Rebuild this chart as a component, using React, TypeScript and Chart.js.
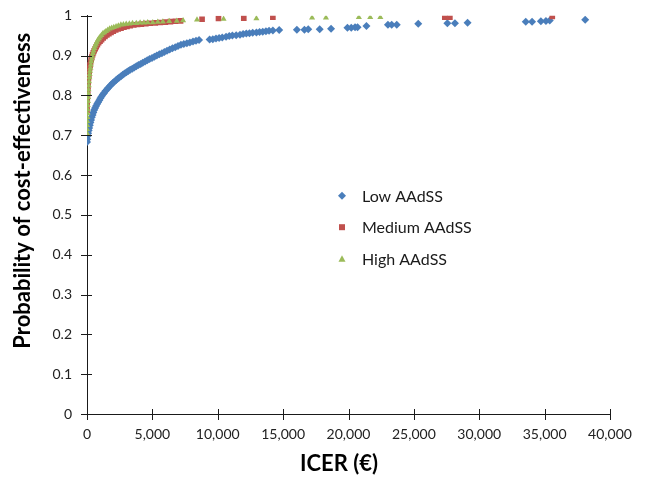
import React, { useEffect, useRef } from "react";
import { Chart, registerables } from "chart.js";

Chart.register(...registerables);

// ICER (€), probability of cost-effectiveness
const lowAAdSS: [number, number][] = [
  [0, 0.683], [20, 0.690], [50, 0.698], [85, 0.705], [125, 0.712], [165, 0.718],
  [215, 0.725], [260, 0.732], [310, 0.738], [365, 0.745], [425, 0.751], [485, 0.757],
  [550, 0.763], [620, 0.768], [695, 0.773], [775, 0.778], [850, 0.783], [940, 0.788],
  [1025, 0.793], [1110, 0.797], [1210, 0.802], [1305, 0.806], [1410, 0.811], [1520, 0.815],
  [1625, 0.819], [1740, 0.823], [1855, 0.827], [1970, 0.831], [2090, 0.834], [2215, 0.838],
  [2340, 0.842], [2465, 0.845], [2600, 0.848], [2735, 0.852], [2870, 0.855], [3015, 0.858],
  [3160, 0.861], [3305, 0.864], [3460, 0.867], [3615, 0.870], [3770, 0.873], [3935, 0.876],
  [4100, 0.879], [4265, 0.882], [4440, 0.885], [4610, 0.888], [4785, 0.891], [4970, 0.894],
  [5155, 0.897], [5340, 0.900], [5530, 0.903], [5725, 0.906], [5920, 0.909], [6120, 0.912],
  [6325, 0.915], [6535, 0.918], [6750, 0.921], [6960, 0.924], [7185, 0.927], [7405, 0.929],
  [7640, 0.931], [7870, 0.933], [8105, 0.935], [8335, 0.937], [8570, 0.939],
  [9380, 0.940], [9620, 0.941], [9865, 0.943], [10105, 0.944], [10345, 0.945], [10635, 0.947],
  [10880, 0.949], [11120, 0.950], [11410, 0.951], [11700, 0.952], [11940, 0.954], [12185, 0.955],
  [12425, 0.956], [12670, 0.957], [12960, 0.958], [13200, 0.959], [13440, 0.960], [13685, 0.961],
  [13925, 0.962], [14215, 0.963], [14700, 0.964], [16050, 0.965], [16630, 0.965], [16920, 0.966],
  [17795, 0.966], [18665, 0.967], [19920, 0.970], [20210, 0.970], [20500, 0.971], [20695, 0.971],
  [21370, 0.974], [23015, 0.977], [23305, 0.977], [23690, 0.977], [25335, 0.980], [27560, 0.981],
  [28140, 0.981], [29105, 0.982], [33555, 0.985], [34040, 0.985], [34715, 0.986], [35100, 0.987],
  [35390, 0.988], [38100, 0.990],
];

const mediumAAdSS: [number, number][] = [
  [0, 0.762], [0, 0.772], [10, 0.782], [20, 0.792], [35, 0.802], [50, 0.812], [68, 0.822],
  [87, 0.832], [111, 0.842], [135, 0.851], [164, 0.860], [193, 0.868], [232, 0.876], [271, 0.883],
  [319, 0.890], [367, 0.896], [425, 0.902], [484, 0.907], [551, 0.912], [629, 0.917], [706, 0.922],
  [793, 0.927], [890, 0.932], [996, 0.936], [1112, 0.940], [1238, 0.944], [1373, 0.948],
  [1518, 0.952], [1673, 0.955], [1837, 0.958], [2011, 0.961], [2195, 0.964], [2388, 0.967],
  [2601, 0.969], [2824, 0.971], [3056, 0.973], [3307, 0.975], [3578, 0.977], [3868, 0.978],
  [4158, 0.979], [4497, 0.980], [4835, 0.981], [5222, 0.982], [5609, 0.983], [5995, 0.984],
  [6382, 0.985], [6769, 0.986], [7156, 0.987], [8800, 0.991], [10057, 0.993], [11991, 0.994],
  [14215, 0.996], [27366, 0.996], [27753, 0.996], [35586, 0.998],
];

const highAAdSS: [number, number][] = [
  [0, 0.705], [0, 0.715], [10, 0.725], [20, 0.735], [29, 0.745], [39, 0.755], [48, 0.765],
  [58, 0.775], [73, 0.785], [87, 0.795], [102, 0.805], [116, 0.815], [135, 0.825], [155, 0.835],
  [179, 0.845], [203, 0.853], [232, 0.861], [261, 0.869], [295, 0.877], [329, 0.885], [367, 0.892],
  [406, 0.899], [454, 0.906], [503, 0.912], [561, 0.918], [619, 0.924], [687, 0.929], [754, 0.934],
  [832, 0.939], [919, 0.943], [1006, 0.947], [1102, 0.951], [1209, 0.955], [1325, 0.958],
  [1451, 0.961], [1586, 0.964], [1731, 0.967], [1886, 0.969], [2050, 0.971], [2224, 0.973],
  [2398, 0.975], [2592, 0.977], [2785, 0.978], [2998, 0.979], [3239, 0.980], [3481, 0.981],
  [3771, 0.981], [4061, 0.982], [4352, 0.982], [4642, 0.983], [5028, 0.983], [5415, 0.984],
  [5802, 0.985], [6286, 0.986], [6866, 0.987], [7349, 0.988], [8413, 0.990], [10444, 0.992],
  [12958, 0.993], [17213, 0.995], [18276, 0.995], [20791, 0.996], [21661, 0.996], [22434, 0.996],
];

const seriesNames = ["Low AAdSS", "Medium AAdSS", "High AAdSS"];
const seriesColors = ["#4A7EBB", "#C0504D", "#9BBB59"];

const xTitle = "ICER (€)";
const yTitle = "Probability of cost-effectiveness";
const FONT = "Lato, 'Open Sans', sans-serif";

const toXY = (pts: [number, number][]) => pts.map(([x, y]) => ({ x, y }));

const crossTicksPlugin = {
  id: "crossTicks",
  afterDraw(chart: any) {
    const ctx = chart.ctx;
    const xs = chart.scales.x;
    const ys = chart.scales.y;
    const ca = chart.chartArea;
    ctx.save();
    ctx.strokeStyle = "#1a1a1a";
    ctx.lineWidth = 1;
    ctx.beginPath();
    xs.ticks.forEach((t: any) => {
      const px = Math.round(xs.getPixelForValue(t.value)) + 0.5;
      ctx.moveTo(px, ca.bottom - 5);
      ctx.lineTo(px, ca.bottom + 6);
    });
    ys.ticks.forEach((t: any) => {
      const py = Math.round(ys.getPixelForValue(t.value)) + 0.5;
      ctx.moveTo(ca.left - 6, py);
      ctx.lineTo(ca.left + 5, py);
    });
    ctx.stroke();
    // axis titles
    ctx.fillStyle = "#000";
    ctx.font = `bold 22px ${FONT}`;
    ctx.textAlign = "center";
    ctx.textBaseline = "middle";
    ctx.fillText(xTitle, ca.left + 252, ca.bottom + 50);
    ctx.translate(23, ca.top + 175);
    ctx.rotate(-Math.PI / 2);
    ctx.fillText(yTitle, 0, 0);
    ctx.restore();
  },
};

const insideLegendPlugin = {
  id: "insideLegend",
  afterDraw(chart: any) {
    const ctx = chart.ctx;
    const ca = chart.chartArea;
    const mx = ca.left + 255;
    const tx = ca.left + 275;
    const y0 = ca.top + 180;
    const gap = 31.5;
    ctx.save();
    seriesNames.forEach((name, i) => {
      const y = y0 + i * gap;
      ctx.fillStyle = seriesColors[i];
      ctx.beginPath();
      if (i === 0) {
        ctx.moveTo(mx, y - 4);
        ctx.lineTo(mx + 4, y);
        ctx.lineTo(mx, y + 4);
        ctx.lineTo(mx - 4, y);
        ctx.closePath();
      } else if (i === 1) {
        ctx.rect(mx - 3, y - 3, 6, 6);
      } else {
        ctx.moveTo(mx, y - 3.5);
        ctx.lineTo(mx + 3.5, y + 3);
        ctx.lineTo(mx - 3.5, y + 3);
        ctx.closePath();
      }
      ctx.fill();
      ctx.fillStyle = "#1a1a1a";
      ctx.font = `16px ${FONT}`;
      ctx.textBaseline = "middle";
      ctx.textAlign = "left";
      ctx.fillText(name, tx, y + 1);
    });
    ctx.restore();
  },
};

export default function App() {
  const canvasRef = useRef<HTMLCanvasElement | null>(null);

  useEffect(() => {
    const canvas = canvasRef.current;
    if (!canvas) return;
    const chart = new Chart(canvas, {
      type: "scatter",
      data: {
        datasets: [
          {
            label: seriesNames[0],
            data: toXY(lowAAdSS),
            backgroundColor: seriesColors[0],
            borderWidth: 0,
            pointStyle: "rectRot",
            pointRadius: 4,
            order: 3,
          },
          {
            label: seriesNames[1],
            data: toXY(mediumAAdSS),
            backgroundColor: seriesColors[1],
            borderWidth: 0,
            pointStyle: "rect",
            pointRadius: 4,
            order: 2,
          },
          {
            label: seriesNames[2],
            data: toXY(highAAdSS),
            backgroundColor: seriesColors[2],
            borderWidth: 0,
            pointStyle: "triangle",
            pointRadius: 3.5,
            order: 1,
          },
        ],
      },
      options: {
        responsive: false,
        animation: false,
        devicePixelRatio: 1,
        layout: { padding: { top: 15.7, right: 36, left: 0, bottom: 0 } },
        plugins: {
          legend: { display: false },
          tooltip: { enabled: false },
        },
        scales: {
          x: {
            type: "linear",
            min: 0,
            max: 40000,
            grid: { display: false, drawTicks: true, tickLength: 12 },
            border: { display: true, color: "#1a1a1a", width: 1 },
            ticks: {
              stepSize: 5000,
              autoSkip: false,
              maxRotation: 0,
              padding: 0,
              color: "#222",
              font: { family: FONT, size: 14 },
            },
            afterFit: (s: any) => {
              s.height = 63;
            },
          },
          y: {
            type: "linear",
            min: 0,
            max: 1,
            grid: { display: false, drawTicks: true, tickLength: 15 },
            border: { display: true, color: "#1a1a1a", width: 1 },
            ticks: {
              stepSize: 0.1,
              autoSkip: false,
              padding: 0,
              color: "#222",
              font: { family: FONT, size: 14 },
              callback: (v: any) => String(Math.round(Number(v) * 10) / 10),
            },
            afterFit: (s: any) => {
              s.width = 87;
            },
          },
        },
      },
      plugins: [crossTicksPlugin, insideLegendPlugin],
    } as any);
    return () => chart.destroy();
  }, []);

  return (
    <div style={{ position: "absolute", left: 0, top: 0, width: 646, height: 477, background: "#fff" }}>
      <canvas ref={canvasRef} width={646} height={477} style={{ display: "block" }} />
    </div>
  );
}
